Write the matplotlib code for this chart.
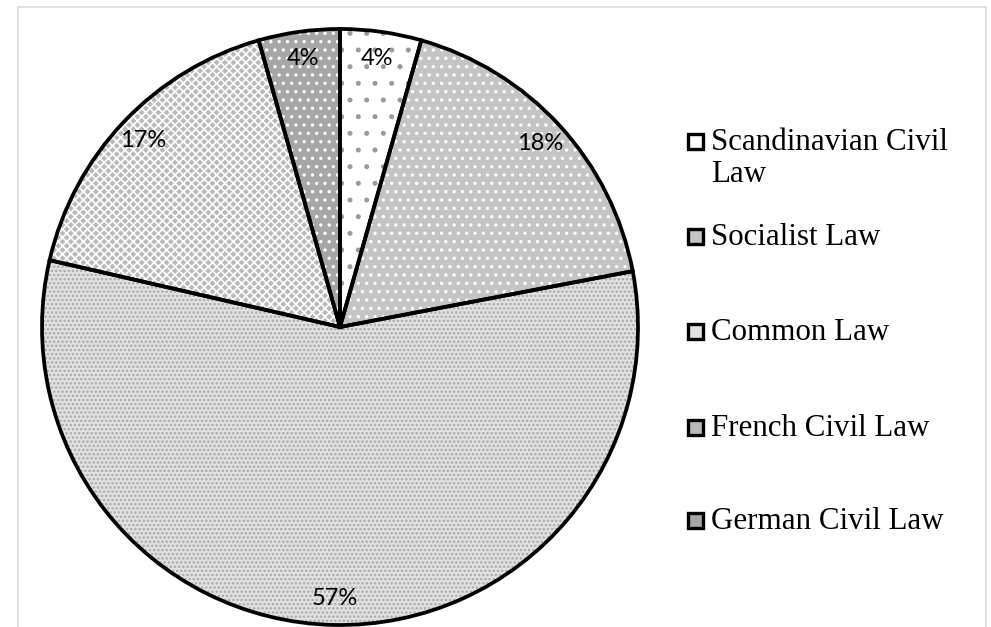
import matplotlib
matplotlib.use("Agg")
import matplotlib.pyplot as plt
import matplotlib.patches as mpatches

# ── data ──────────────────────────────────────────────────────────────────────
labels = ["Scandinavian Civil\nLaw", "Socialist Law", "Common Law",
          "French Civil Law", "German Civil Law"]
shares = [4.4, 17.6, 56.6, 17.0, 4.4]

# fill / hatch style per slice (Excel-like pattern fills)
FACE   = ["#ffffff", "#c4c4c4", "#e2e2e2", "#b9b9b9", "#a6a6a6"]
HCOL   = ["#9a9a9a", "#ffffff", "#a8a8a8", "#ffffff", "#ffffff"]
HATCH  = [".",       "..",      "....",    "xxxx",    ".."]

W, H = 991, 627
fig = plt.figure(figsize=(W / 100, H / 100), dpi=100)

# pie area: centre (340, 327) px, radius 298 px
cx, cy, r = 340, 327, 298
ax = fig.add_axes([(cx - r) / W, (H - cy - r) / H, 2 * r / W, 2 * r / H])

plt.rcParams["hatch.linewidth"] = 1.2

# pattern layer
wedges, _, autotexts = ax.pie(
    shares, startangle=90, counterclock=False, radius=1,
    autopct="%.0f%%", pctdistance=0.91,
    wedgeprops=dict(linewidth=0),
    textprops=dict(fontsize=17, family="Lato", color="black"),
)
for w, fc, hc, hp in zip(wedges, FACE, HCOL, HATCH):
    w.set_facecolor(fc)
    w.set_edgecolor(hc)
    w.set_hatch(hp)
    w.set_linewidth(0)

# outline layer
outline, _ = ax.pie(
    shares, startangle=90, counterclock=False, radius=1,
    wedgeprops=dict(fill=False, edgecolor="black", linewidth=2.7),
)
for w in outline:
    w.set_clip_on(False)
for t in autotexts:
    t.set_zorder(5)

ax.set_xlim(-1, 1)
ax.set_ylim(-1, 1)
ax.set_aspect("equal")
ax.axis("off")

# ── chart frame ───────────────────────────────────────────────────────────────
frame = mpatches.Rectangle((18 / W, -0.02), (986 - 18) / W, 1.02 - 7 / H,
                           transform=fig.transFigure, fill=False,
                           edgecolor="#d9d9d9", linewidth=1.1)
fig.add_artist(frame)

# ── legend (drawn by hand to mimic Excel layout) ──────────────────────────────
baselines = [150, 245, 340, 436, 529]
for lab, fc, yb in zip(labels, FACE, baselines):
    box = mpatches.Rectangle((688 / W, (H - yb + 1.5) / H), 15 / W, 15 / H,
                             transform=fig.transFigure, facecolor=fc,
                             edgecolor="black", linewidth=2.4)
    fig.add_artist(box)
    fig.text(711 / W, (H - yb + 22) / H, lab, fontsize=22.3,
             family="Liberation Serif", va="top", ha="left",
             linespacing=1.14)

fig.savefig("out.png", dpi=100)
